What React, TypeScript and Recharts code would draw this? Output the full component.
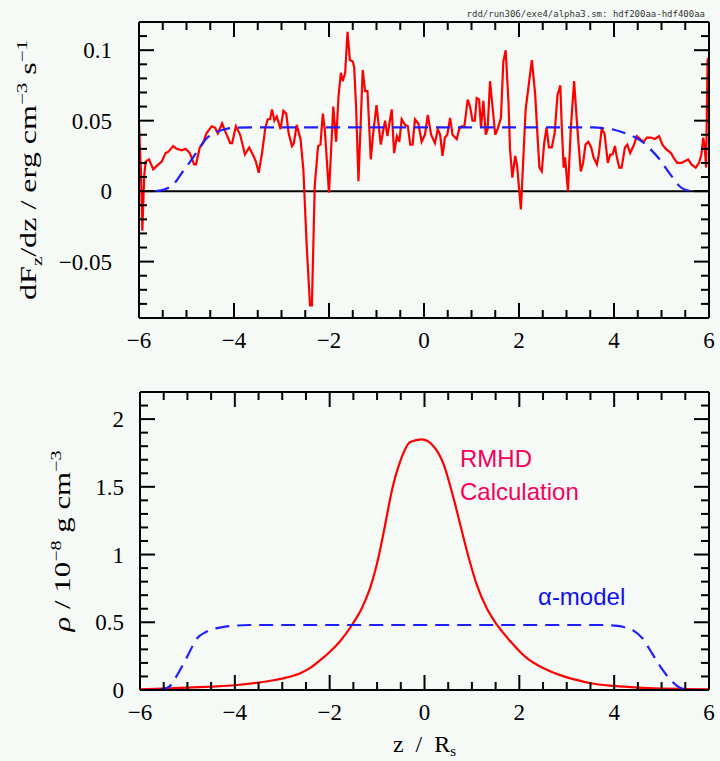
import { LineChart, Line, XAxis, YAxis, ReferenceLine } from "recharts";

const BG = "#f6faf6";
const SERIF = "'Liberation Serif', 'DejaVu Serif', serif";
const SANS = "'Liberation Sans', Arial, sans-serif";
const RED = "#ff0000";
const BLUE = "#1e1eff";

// axis ticks (minor + major)
const zTicks = [-6, -5.5, -5, -4.5, -4, -3.5, -3, -2.5, -2, -1.5, -1, -0.5, 0, 0.5, 1, 1.5, 2, 2.5, 3, 3.5, 4, 4.5, 5, 5.5, 6];
const fluxTicks = [-0.09, -0.08, -0.07, -0.06, -0.05, -0.04, -0.03, -0.02, -0.01, 0, 0.01, 0.02, 0.03, 0.04, 0.05, 0.06, 0.07, 0.08, 0.09, 0.1, 0.11, 0.12];
const rhoTicks = [0, 0.1, 0.2, 0.3, 0.4, 0.5, 0.6, 0.7, 0.8, 0.9, 1, 1.1, 1.2, 1.3, 1.4, 1.5, 1.6, 1.7, 1.8, 1.9, 2, 2.1, 2.2];

// top panel: dF/dz, RMHD run
const fluxZ = [
  -6, -5.96, -5.93, -5.89, -5.86, -5.79, -5.7, -5.59, -5.52, -5.44, -5.38, -5.28, -5.21, -5.1, -5.02, -4.93, -4.84, -4.8,
  -4.72, -4.65, -4.58, -4.47, -4.4, -4.34, -4.25, -4.18, -4.08, -4.04, -3.96, -3.87, -3.77, -3.68, -3.59, -3.54, -3.48,
  -3.41, -3.34, -3.29, -3.24, -3.2, -3.15, -3.1, -3.02, -2.96, -2.9, -2.85, -2.78, -2.74, -2.68, -2.6, -2.54, -2.47, -2.4,
  -2.36, -2.3, -2.23, -2.18, -2.13, -2.09, -2, -1.91, -1.85, -1.8, -1.75, -1.71, -1.66, -1.61, -1.56, -1.5, -1.47, -1.43,
  -1.38, -1.33, -1.29, -1.24, -1.19, -1.12, -1.07, -1, -0.91, -0.82, -0.77, -0.68, -0.63, -0.57, -0.52, -0.47, -0.4, -0.34,
  -0.29, -0.24, -0.19, -0.12, -0.05, 0.02, 0.08, 0.15, 0.23, 0.29, 0.34, 0.39, 0.44, 0.49, 0.55, 0.6, 0.69, 0.74, 0.79,
  0.85, 0.92, 0.97, 1.02, 1.07, 1.11, 1.16, 1.2, 1.25, 1.3, 1.34, 1.39, 1.5, 1.55, 1.62, 1.67, 1.72, 1.78, 1.81, 1.86,
  1.92, 1.96, 2.04, 2.09, 2.14, 2.2, 2.27, 2.34, 2.39, 2.43, 2.48, 2.53, 2.58, 2.63, 2.69, 2.75, 2.81, 2.87, 2.9, 2.94,
  2.97, 3.03, 3.09, 3.16, 3.23, 3.3, 3.35, 3.4, 3.46, 3.52, 3.57, 3.64, 3.68, 3.74, 3.8, 3.87, 3.92, 3.97, 4.02, 4.06,
  4.11, 4.16, 4.23, 4.28, 4.34, 4.41, 4.48, 4.55, 4.62, 4.69, 4.78, 4.86, 4.95, 5.02, 5.09, 5.2, 5.25, 5.33, 5.42, 5.56,
  5.63, 5.72, 5.79, 5.84, 5.88, 5.91, 5.94, 5.97, 6,
];
const fluxRmhd = [
  0.048, 0.015, -0.028, 0.011, 0.021, 0.0225, 0.0155, 0.019, 0.021, 0.027, 0.028, 0.032, 0.03, 0.029, 0.03, 0.027, 0.019, 0.019,
  0.031, 0.034, 0.041, 0.046, 0.045, 0.041, 0.048, 0.042, 0.034, 0.034, 0.046, 0.04, 0.026, 0.031, 0.025, 0.021, 0.013,
  0.027, 0.045, 0.051, 0.051, 0.058, 0.05, 0.053, 0.044, 0.057, 0.055, 0.041, 0.032, 0.034, 0.047, 0.037, 0.0155, -0.0385, -0.081,
  -0.081, 0.004, 0.032, 0.033, 0.055, 0.044, -0.001, 0.06, 0.035, 0.067, 0.084, 0.078, 0.084, 0.113, 0.093, 0.092, 0.088, 0.06,
  0.007, 0.051, 0.086, 0.071, 0.071, 0.0225, 0.041, 0.061, 0.033, 0.05, 0.039, 0.058, 0.027, 0.039, 0.035, 0.051, 0.047, 0.046,
  0.033, 0.033, 0.051, 0.048, 0.035, 0.04, 0.054, 0.04, 0.034, 0.044, 0.04, 0.025, 0.038, 0.04, 0.052, 0.04, 0.037, 0.044, 0.046,
  0.046, 0.065, 0.06, 0.05, 0.05, 0.066, 0.065, 0.045, 0.064, 0.04, 0.044, 0.078, 0.04, 0.044, 0.052, 0.092, 0.1, 0.062, 0.03, 0.0096,
  0.025, 0.018, -0.013, 0.0225, 0.058, 0.074, 0.093, 0.069, 0.039, 0.0167, 0.014, 0.034, 0.045, 0.031, 0.031, 0.041, 0.068, 0.075, 0.046, 0.0167,
  0.024, 0, 0.044, 0.078, 0.044, 0.014, 0.02, 0.033, 0.035, 0.031, 0.024, 0.019, 0.026, 0.044, 0.041, 0.02, 0.026, 0.026, 0.032, 0.024,
  0.0167, 0.0167, 0.031, 0.033, 0.027, 0.032, 0.039, 0.037, 0.035, 0.038, 0.038, 0.037, 0.039, 0.033, 0.03, 0.027, 0.024, 0.02, 0.02, 0.0225,
  0.019, 0.0167, 0.02, 0.026, 0.038, 0.031, 0.0167, 0.093, 0.095,
];

// top panel: alpha-model
const fluxModelZ = [-5.65, -5.45, -5.27, -5.07, -4.9, -4.75, -4.6, -4.42, -4.21, -4, -3.5, 0, 3.55, 3.8, 3.98, 4.2, 4.4, 4.6, 4.76, 4.95, 5.11, 5.25, 5.38, 5.5, 5.66];
const fluxModel = [0, 0.0014, 0.005, 0.0143, 0.022, 0.0296, 0.0366, 0.041, 0.0437, 0.045, 0.0452, 0.0452, 0.0452, 0.0446, 0.0437, 0.0415, 0.039, 0.035, 0.03, 0.023, 0.0155, 0.009, 0.0035, 0.001, 0];

// bottom panel: density
const rhoZ = [
  -6, -5.5, -5, -4.5, -4, -3.5, -3, -2.62, -2.4, -2.2, -2, -1.78, -1.53, -1.32, -1.15, -0.97, -0.83, -0.69, -0.51, -0.3,
  -0.06, 0.19, 0.4, 0.61, 0.79, 0.93, 1.1, 1.31, 1.53, 1.81, 2.16, 2.51, 2.86, 3.2, 3.5, 4, 4.5, 5, 5.5, 6,
];
const rhoRmhd = [
  0.005, 0.01, 0.017, 0.025, 0.035, 0.055, 0.085, 0.124, 0.165, 0.22, 0.28, 0.36, 0.48, 0.605, 0.75, 0.98, 1.22, 1.47, 1.69, 1.83,
  1.85, 1.8, 1.67, 1.42, 1.17, 0.98, 0.78, 0.605, 0.48, 0.36, 0.235, 0.16, 0.11, 0.075, 0.05, 0.03, 0.018, 0.011, 0.007, 0.004,
];
const rhoModelZ = [-5.6, -5.4, -5.2, -5, -4.8, -4.6, -4.4, -4.2, -4, -3.7, 0, 3.7, 4, 4.2, 4.4, 4.6, 4.8, 5, 5.2, 5.4, 5.6];
const rhoModel = [0, 0.02, 0.12, 0.25, 0.38, 0.43, 0.455, 0.468, 0.475, 0.48, 0.48, 0.48, 0.475, 0.465, 0.44, 0.38, 0.27, 0.16, 0.07, 0.015, 0];

const pair = (zs: number[], vs: number[]) => zs.map((z, i) => ({ z, v: vs[i] }));
const fluxRmhdData = pair(fluxZ, fluxRmhd);
const fluxModelData = pair(fluxModelZ, fluxModel);
const rhoRmhdData = pair(rhoZ, rhoRmhd);
const rhoModelData = pair(rhoModelZ, rhoModel);

const fmt = (v: number) => String(v).replace("-", "\u2212");

const XTick = (props: any) => {
  const { x, y, payload, inward, showLabel } = props;
  const major = Math.round(payload.value * 2) % 4 === 0;
  const len = major ? 15 : 8;
  return (
    <g>
      <line x1={x} x2={x} y1={y} y2={y + inward * len} stroke="#000" strokeWidth={2} />
      {showLabel && major && (
        <text x={x} y={y + 30} textAnchor="middle" fontFamily={SERIF} fontSize={23} fill="#000">
          {fmt(payload.value)}
        </text>
      )}
    </g>
  );
};

const YTick = (props: any) => {
  const { x, y, payload, inward, gap, unit } = props;
  const major = Math.round(payload.value * unit) % 5 === 0;
  const len = major ? 15 : 8;
  return (
    <g>
      <line x1={x} x2={x + inward * len} y1={y} y2={y} stroke="#000" strokeWidth={2} />
      {gap && major && (
        <text x={x - gap} y={y + 8} textAnchor="end" fontFamily={SERIF} fontSize={23} fill="#000">
          {fmt(payload.value)}
        </text>
      )}
    </g>
  );
};

const FluxLabel = ({ viewBox }: any) => {
  const cx = viewBox.x + 36;
  const cy = viewBox.y + viewBox.height / 2;
  return (
    <text
      x={cx}
      y={cy}
      transform={`rotate(-90 ${cx} ${cy})`}
      textAnchor="middle"
      fontFamily={SERIF}
      fontSize={23}
      fill="#000"
      textLength={260}
      lengthAdjust="spacingAndGlyphs"
    >
      dF<tspan dy={6} fontSize={15}>z</tspan>
      <tspan dy={-6}>/dz / erg cm</tspan>
      <tspan dy={-9} fontSize={15}>{"\u22123"}</tspan>
      <tspan dy={9}> s</tspan>
      <tspan dy={-9} fontSize={15}>{"\u22121"}</tspan>
    </text>
  );
};

const RhoLabel = ({ viewBox }: any) => {
  const cx = viewBox.x + 70;
  const cy = viewBox.y + viewBox.height / 2;
  return (
    <text
      x={cx}
      y={cy}
      transform={`rotate(-90 ${cx} ${cy})`}
      textAnchor="middle"
      fontFamily={SERIF}
      fontSize={23}
      fill="#000"
      textLength={181}
      lengthAdjust="spacingAndGlyphs"
    >
      <tspan fontStyle="italic">ρ</tspan> / 10
      <tspan dy={-9} fontSize={15}>{"\u22128"}</tspan>
      <tspan dy={9}> g cm</tspan>
      <tspan dy={-9} fontSize={15}>{"\u22123"}</tspan>
    </text>
  );
};

const ZLabel = ({ viewBox }: any) => {
  const cx = viewBox.x + viewBox.width / 2;
  return (
    <text x={cx} y={viewBox.y + 62} textAnchor="middle" fontFamily={SERIF} fontSize={24} fill="#000" style={{ whiteSpace: "pre" }}>
      {"z  /  R"}
      <tspan dy={4} fontSize={15}>s</tspan>
    </text>
  );
};

const frame = { stroke: "#000", strokeWidth: 2 };

export default function App() {
  return (
    <div style={{ position: "absolute", left: 0, top: 0, width: 720, height: 761, background: BG }}>
      <LineChart width={720} height={362} margin={{ top: 21, right: 10, bottom: 0, left: 0 }}>
        <XAxis
          dataKey="z"
          type="number"
          domain={[-6, 6]}
          ticks={zTicks}
          interval={0}
          height={44}
          axisLine={frame}
          tickLine={false}
          tickSize={0}
          tickMargin={0}
          tick={<XTick inward={-1} showLabel />}
          allowDataOverflow
        />
        <XAxis
          xAxisId="top"
          dataKey="z"
          orientation="top"
          type="number"
          domain={[-6, 6]}
          ticks={zTicks}
          interval={0}
          height={1}
          axisLine={frame}
          tickLine={false}
          tickSize={0}
          tickMargin={0}
          tick={<XTick inward={1} />}
          allowDataOverflow
        />
        <YAxis
          type="number"
          domain={[-0.09, 0.12]}
          ticks={fluxTicks}
          interval={0}
          width={139}
          axisLine={frame}
          tickLine={false}
          tickSize={0}
          tickMargin={0}
          tick={<YTick inward={1} gap={27} unit={100} />}
          label={{ content: FluxLabel }}
          allowDataOverflow
        />
        <YAxis
          yAxisId="right"
          orientation="right"
          type="number"
          domain={[-0.09, 0.12]}
          ticks={fluxTicks}
          interval={0}
          width={1}
          axisLine={frame}
          tickLine={false}
          tickSize={0}
          tickMargin={0}
          tick={<YTick inward={-1} unit={100} />}
          allowDataOverflow
        />
        <ReferenceLine y={0} stroke="#000" strokeWidth={2} />
        <Line data={fluxRmhdData} dataKey="v" type="linear" stroke={RED} strokeWidth={2.2} dot={false} isAnimationActive={false} />
        <Line data={fluxModelData} dataKey="v" type="monotone" stroke={BLUE} strokeWidth={2.2} strokeDasharray="14 8" dot={false} isAnimationActive={false} />
        {/* invisible twin so the mirrored frame axes (top/right) get drawn */}
        <Line xAxisId="top" yAxisId="right" data={fluxModelData} dataKey="v" stroke="none" dot={false} activeDot={false} isAnimationActive={false} />
      </LineChart>

      <LineChart width={720} height={399} margin={{ top: 29, right: 10, bottom: 0, left: 0 }}>
        <XAxis
          dataKey="z"
          type="number"
          domain={[-6, 6]}
          ticks={zTicks}
          interval={0}
          height={71}
          axisLine={frame}
          tickLine={false}
          tickSize={0}
          tickMargin={0}
          tick={<XTick inward={-1} showLabel />}
          label={{ content: ZLabel }}
          allowDataOverflow
        />
        <XAxis
          xAxisId="top"
          dataKey="z"
          orientation="top"
          type="number"
          domain={[-6, 6]}
          ticks={zTicks}
          interval={0}
          height={1}
          axisLine={frame}
          tickLine={false}
          tickSize={0}
          tickMargin={0}
          tick={<XTick inward={1} />}
          allowDataOverflow
        />
        <YAxis
          type="number"
          domain={[0, 2.2]}
          ticks={rhoTicks}
          interval={0}
          width={140}
          axisLine={frame}
          tickLine={false}
          tickSize={0}
          tickMargin={0}
          tick={<YTick inward={1} gap={16} unit={10} />}
          label={{ content: RhoLabel }}
          allowDataOverflow
        />
        <YAxis
          yAxisId="right"
          orientation="right"
          type="number"
          domain={[0, 2.2]}
          ticks={rhoTicks}
          interval={0}
          width={1}
          axisLine={frame}
          tickLine={false}
          tickSize={0}
          tickMargin={0}
          tick={<YTick inward={-1} unit={10} />}
          allowDataOverflow
        />
        <Line data={rhoRmhdData} dataKey="v" type="monotone" stroke={RED} strokeWidth={2.2} dot={false} isAnimationActive={false} />
        <Line data={rhoModelData} dataKey="v" type="monotone" stroke={BLUE} strokeWidth={2.2} strokeDasharray="14 8" dot={false} isAnimationActive={false} />
        <Line xAxisId="top" yAxisId="right" data={rhoModelData} dataKey="v" stroke="none" dot={false} activeDot={false} isAnimationActive={false} />
      </LineChart>

      <svg width={720} height={761} style={{ position: "absolute", left: 0, top: 0, pointerEvents: "none" }}>
        <text x={705} y={17} textAnchor="end" fontFamily="'DejaVu Sans Mono', monospace" fontSize={9} fill="#333">
          rdd/run306/exe4/alpha3.sm: hdf200aa-hdf400aa
        </text>
        <text x={460} y={467} fontFamily={SANS} fontSize={24} fill="#f5005c">RMHD</text>
        <text x={460} y={500} fontFamily={SANS} fontSize={24} fill="#f5005c">Calculation</text>
        <text x={538} y={605} fontFamily={SANS} fontSize={24} fill="#1010f0">α-model</text>
      </svg>
    </div>
  );
}
